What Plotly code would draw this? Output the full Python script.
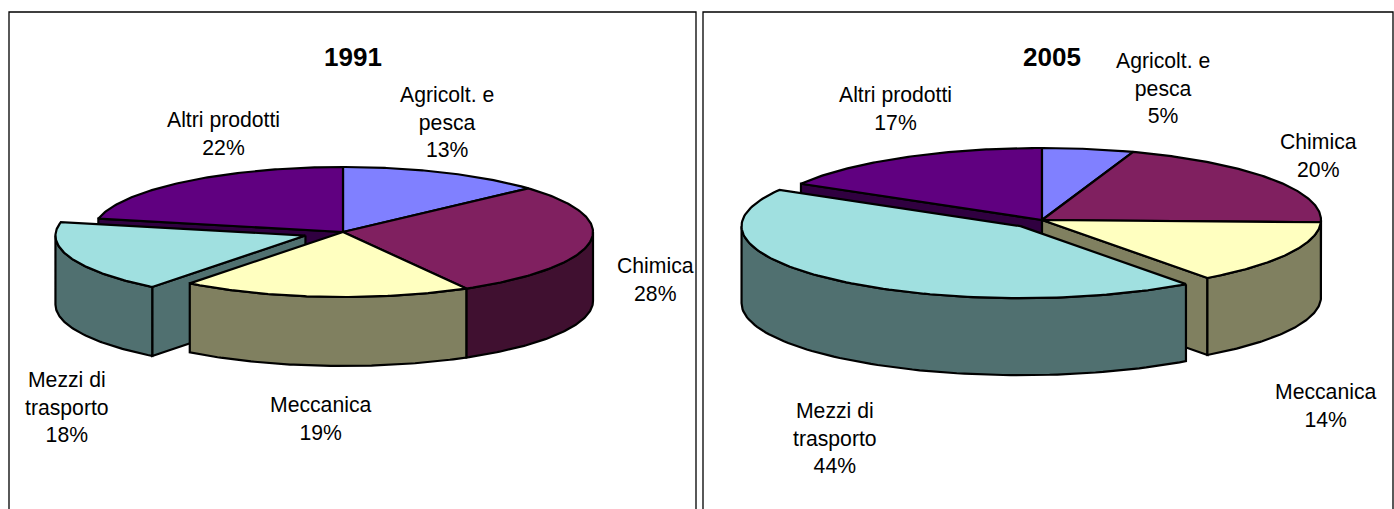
import math
import numpy as np
import plotly.graph_objects as go

# ---- data
categories = ["Agricolt. e<br>pesca", "Chimica", "Meccanica", "Mezzi di<br>trasporto", "Altri prodotti"]
values_1991 = [13.3, 28.49, 18.71, 17.8, 21.7]
values_2005 = [5.3, 20.2, 14.4, 43.5, 16.6]
titles = ["1991", "2005"]

# ---- styles and layout
top_colors = ["#8080FF", "#802060", "#FFFFC0", "#A0E0E0", "#600080"]
side_colors = ["#404080", "#401030", "#808060", "#507070", "#300040"]
FONT = "Liberation Sans, Arial, sans-serif"
LABEL_SIZE = 21.2
TITLE_SIZE = 26
LINE_W = 2.2

pies = [
    dict(values=values_1991, title=titles[0], cx=343, cy=232, rx=250, ry=65, depth=69,
         explode=0.16, front_faces={3: "start", 4: "start"}, order=[0, 1, 4, 3, 2], title_xy=(353, 57),
         label_xy=[(447, 122), (655, 279), (320, 418), (67, 407), (223, 133)]),
    dict(values=values_2005, title=titles[1], cx=1042, cy=220, rx=279, ry=72, depth=77,
         explode=0.115, front_faces={2: "end", 4: "start"}, order=[4, 0, 1, 2, 3], title_xy=(1052, 57),
         label_xy=[(1163, 88), (1318, 155), (1325, 405), (835, 438), (895, 108)]),
]

fig = go.Figure()


def add_poly(xs, ys, color):
    fig.add_trace(go.Scatter(x=xs, y=ys, mode="lines", fill="toself", fillcolor=color,
                             line=dict(color="black", width=LINE_W), hoverinfo="skip",
                             showlegend=False))


def arc(cx, cy, rx, ry, a0, a1, n=80):
    t = np.radians(np.linspace(a0, a1, n))
    return cx + rx * np.sin(t), cy - ry * np.cos(t)


def draw_slice(p, i, a0, a1):
    mid = math.radians((a0 + a1) / 2)
    d = p["explode"] if i == 3 else 0.0
    cx = p["cx"] + p["rx"] * d * math.sin(mid)
    cy = p["cy"] - p["ry"] * d * math.cos(mid)
    rx, ry, h = p["rx"], p["ry"], p["depth"]

    # cut face turned towards the viewer
    side = p["front_faces"].get(i)
    if side:
        a = a0 if side == "start" else a1
        ox, oy = arc(cx, cy, rx, ry, a, a, 1)
        add_poly([cx, ox[0], ox[0], cx, cx],
                 [cy, oy[0], oy[0] + h, cy + h, cy], side_colors[i])

    # outer wall (front half only)
    b0, b1 = max(a0, 90), min(a1, 270)
    if b1 > b0:
        ax, ay = arc(cx, cy, rx, ry, b0, b1)
        xs = list(ax) + list(ax[::-1]) + [ax[0]]
        ys = list(ay) + list((ay + h)[::-1]) + [ay[0]]
        add_poly(xs, ys, side_colors[i])

    # top face
    ax, ay = arc(cx, cy, rx, ry, a0, a1, 120)
    add_poly([cx] + list(ax) + [cx], [cy] + list(ay) + [cy], top_colors[i])


for p in pies:
    total = sum(p["values"])
    cum = np.cumsum([0] + p["values"]) / total * 360
    for i in p["order"]:
        draw_slice(p, i, cum[i], cum[i + 1])
    for i, (lx, ly) in enumerate(p["label_xy"]):
        fig.add_annotation(x=lx, y=ly, xref="x", yref="y", showarrow=False,
                           text=f"{categories[i]}<br>{round(p['values'][i])}%",
                           font=dict(family=FONT, size=LABEL_SIZE, color="black"), align="center")
    fig.add_annotation(x=p["title_xy"][0], y=p["title_xy"][1], xref="x", yref="y", showarrow=False,
                       text=f"<b>{p['title']}</b>",
                       font=dict(family=FONT, size=TITLE_SIZE, color="black"))

# panel frames
for x0, x1 in [(9, 696), (703, 1393)]:
    fig.add_shape(type="rect", x0=x0, x1=x1, y0=12, y1=530, xref="x", yref="y",
                  line=dict(color="black", width=1.3), layer="below")

fig.update_layout(
    width=1394, height=509, margin=dict(l=0, r=0, t=0, b=0),
    paper_bgcolor="white", plot_bgcolor="white", showlegend=False,
    xaxis=dict(range=[0, 1394], visible=False, fixedrange=True),
    yaxis=dict(range=[509, 0], visible=False, fixedrange=True),
)
fig.write_html("out.html", config={"displayModeBar": False},
               post_script="document.body.style.margin='0';document.body.style.overflow='hidden';")
